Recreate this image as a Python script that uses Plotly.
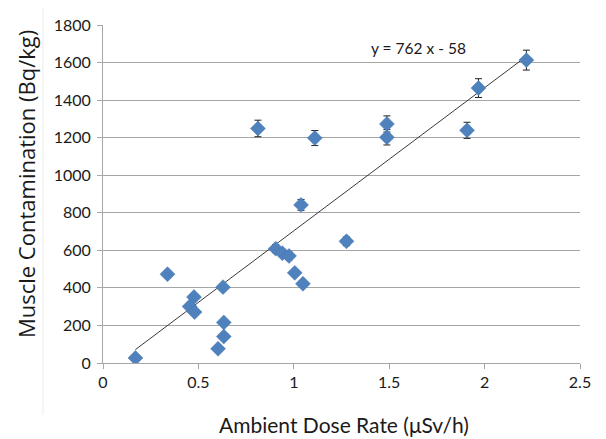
import plotly.graph_objects as go

# Data
dose_rate = [0.17, 0.338, 0.477, 0.454, 0.48, 0.629, 0.633, 0.633, 0.603,
             0.905, 0.94, 0.975, 1.005, 1.048, 1.038, 1.276,
             0.812, 1.11, 1.488, 1.488, 1.908, 1.968, 2.219]
contamination = [27, 473, 351, 301, 271, 404, 216, 141, 76,
                 609, 585, 570, 480, 422, 842, 648,
                 1249, 1198, 1273, 1202, 1239, 1464, 1613]
error = [5, 17, 12, 11, 10, 14, 8, 5, 3,
         21, 20, 20, 17, 15, 29, 23,
         44, 40, 43, 41, 43, 50, 53]

slope = 762
intercept = -58
equation_label = "y = 762 x - 58"

x_title = "Ambient Dose Rate (\u03bcSv/h)"
y_title = "Muscle Contamination (Bq/kg)"
x_ticks = [0, 0.5, 1, 1.5, 2, 2.5]
x_tick_text = ["0", "0.5", "1", "1.5", "2", "2.5"]
y_ticks = [0, 200, 400, 600, 800, 1000, 1200, 1400, 1600, 1800]

FONT = "Lato, 'Open Sans', 'DejaVu Sans', sans-serif"
FONT_WIDE = "'Open Sans', Lato, 'DejaVu Sans', sans-serif"
GRID = "#a6a6a6"
TEXT = "#1a1a1a"

fig = go.Figure()

x_min = min(dose_rate)
x_max = max(dose_rate)
fig.add_trace(go.Scatter(
    x=[x_min, x_max],
    y=[slope * x_min + intercept, slope * x_max + intercept],
    mode="lines",
    line=dict(color="#3a3a3a", width=1),
    hoverinfo="skip",
    showlegend=False,
))

fig.add_trace(go.Scatter(
    x=dose_rate,
    y=contamination,
    mode="markers",
    marker=dict(symbol="diamond", size=11.5, color="#4F81BD",
                line=dict(width=0.5, color="#4677b3")),
    error_y=dict(type="data", array=error, visible=True,
                 color="#222222", thickness=1, width=3.5),
    showlegend=False,
))

fig.add_annotation(
    x=1.651, y=1676, xref="x", yref="y",
    text=equation_label, showarrow=False,
    font=dict(family=FONT, size=15.5, color=TEXT),
)

# axis titles
fig.add_annotation(
    x=0.505, y=-0.182, xref="paper", yref="paper",
    xanchor="center", yanchor="middle",
    text=x_title, showarrow=False,
    font=dict(family=FONT, size=21, color=TEXT),
)
fig.add_annotation(
    x=-0.161, y=0.53, xref="paper", yref="paper",
    xanchor="center", yanchor="middle", textangle=-90,
    text=y_title, showarrow=False,
    font=dict(family=FONT_WIDE, size=22, color=TEXT),
)

# faint chart-area border (left and top)
fig.add_shape(type="line", xref="paper", yref="paper",
              x0=-0.126, x1=-0.126, y0=1.053, y1=-0.153,
              line=dict(color="#ececec", width=1))
fig.add_shape(type="line", xref="paper", yref="paper",
              x0=-0.126, x1=1.1, y0=1.053, y1=1.053,
              line=dict(color="#ececec", width=1))

fig.update_layout(
    width=606, height=439,
    margin=dict(l=95, r=34, t=17, b=84),
    paper_bgcolor="white",
    plot_bgcolor="white",
    font=dict(family=FONT, size=16, color=TEXT),
    xaxis=dict(
        range=[0, 2.5],
        tickvals=x_ticks, ticktext=x_tick_text,
        showgrid=False, zeroline=False,
        showline=True, linecolor=GRID, linewidth=1,
        ticks="outside", ticklen=5, tickcolor=GRID,
        tickfont=dict(family=FONT, size=16, color=TEXT),
        automargin=False,
    ),
    yaxis=dict(
        range=[0, 1800],
        tickvals=y_ticks,
        showgrid=True, gridcolor=GRID, gridwidth=1,
        zeroline=False,
        showline=True, linecolor=GRID, linewidth=1,
        ticks="outside", ticklen=5, tickcolor=GRID,
        ticklabelstandoff=3,
        tickfont=dict(family=FONT, size=16, color=TEXT),
        automargin=False,
    ),
)

fig.write_html("out.html")
